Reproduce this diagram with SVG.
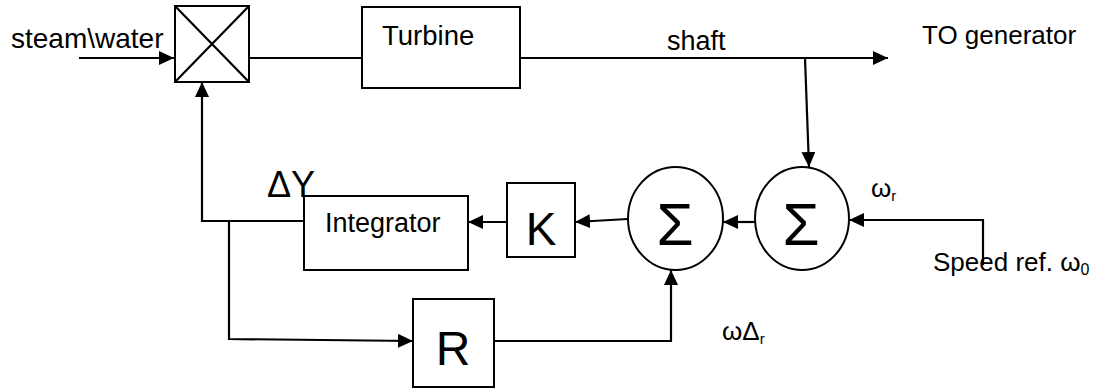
<svg xmlns="http://www.w3.org/2000/svg" width="1099" height="389" viewBox="0 0 1099 389">
<style>
.box{fill:#fff;stroke:#000;stroke-width:2}
.ln{fill:none;stroke:#000;stroke-width:2.2}
.t{font-family:"Liberation Sans",Arial,sans-serif;fill:#000}
</style>
<defs>
<marker id="ah" viewBox="0 0 15 14" refX="15" refY="7" markerWidth="15" markerHeight="14" orient="auto" markerUnits="userSpaceOnUse"><path d="M0,0 L15,7 L0,14 z" fill="#000"/></marker>
</defs>
<rect width="1099" height="389" fill="#fff"/>
<g id="connectors">
<path class="ln" d="M79,58 H174" marker-end="url(#ah)"/>
<path class="ln" d="M249,58 H362"/>
<path class="ln" d="M520,58 H888" marker-end="url(#ah)"/>
<path class="ln" d="M805,58 L809,167" marker-end="url(#ah)"/>
<path class="ln" d="M983,265 V220 H849" marker-end="url(#ah)"/>
<path class="ln" d="M755,222 H723" marker-end="url(#ah)"/>
<path class="ln" d="M628,219 L575,222" marker-end="url(#ah)"/>
<path class="ln" d="M507,222 H468" marker-end="url(#ah)"/>
<path class="ln" d="M304,221 H202 V82" marker-end="url(#ah)"/>
<path class="ln" d="M229,221 V339 L413,341" marker-end="url(#ah)"/>
<path class="ln" d="M494,341 H671 V270" marker-end="url(#ah)"/>
</g>
<g id="valve">
<rect class="box" x="175" y="6" width="74" height="76"/>
<path class="ln" d="M175,6 L249,82 M249,6 L175,82" stroke-width="1.8"/>
</g>
<g id="turbine">
<rect class="box" x="362" y="7" width="158" height="81"/>
<text class="t" x="382" y="45" font-size="27.5">Turbine</text>
</g>
<g id="integrator">
<rect class="box" x="304" y="196" width="164" height="74"/>
<text class="t" x="325" y="232" font-size="27">Integrator</text>
</g>
<g id="k">
<rect class="box" x="507" y="183" width="68" height="74"/>
<text class="t" x="541" y="245" font-size="46" text-anchor="middle">K</text>
</g>
<g id="r">
<rect class="box" x="413" y="299" width="81" height="88"/>
<text class="t" x="453" y="365" font-size="48" text-anchor="middle">R</text>
</g>
<g id="sum1">
<ellipse class="box" cx="675.5" cy="218.5" rx="47.5" ry="51.5"/>
<text class="t" x="675" y="245" font-size="60" text-anchor="middle">Σ</text>
</g>
<g id="sum2">
<ellipse class="box" cx="802" cy="218.5" rx="47" ry="51.5"/>
<text class="t" x="801" y="245" font-size="60" text-anchor="middle">Σ</text>
</g>
<g id="labels">
<text class="t" x="11" y="48" font-size="28">steam\water</text>
<text class="t" x="667" y="50" font-size="27">shaft</text>
<text class="t" x="922" y="44" font-size="26">TO generator</text>
<text class="t" x="267" y="197" font-size="36">ΔY</text>
<text class="t" x="871" y="197" font-size="26">ω<tspan font-size="15" dy="4">r</tspan></text>
<text class="t" x="933" y="271" font-size="26">Speed ref. ω<tspan font-size="16" dy="4">0</tspan></text>
<text class="t" x="722" y="340" font-size="26">ωΔ<tspan font-size="15" dy="4">r</tspan></text>
</g>
</svg>
